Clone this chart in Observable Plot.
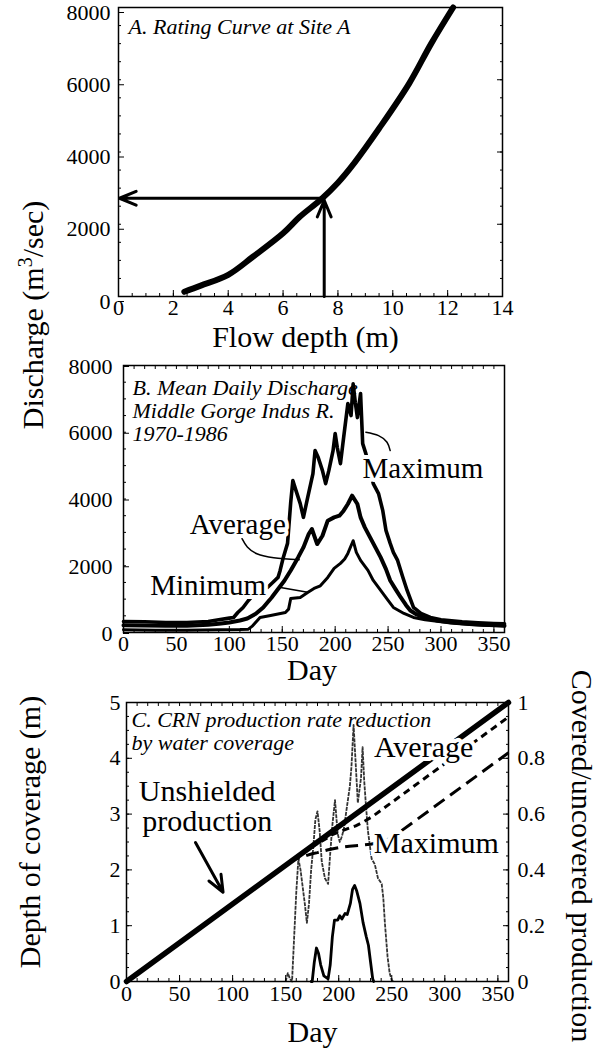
<!DOCTYPE html>
<html><head><meta charset="utf-8">
<script src="https://cdn.jsdelivr.net/npm/d3@7"></script>
<script src="https://cdn.jsdelivr.net/npm/@observablehq/plot@0.6"></script>
<style>
html,body{margin:0;padding:0;background:#fff;}
#root{position:relative;width:598px;height:1049px;overflow:hidden;font-family:"Liberation Serif",serif;color:#000;}
#root svg{position:absolute;left:0;}
#ytitleAB{position:absolute;left:33px;top:315px;transform:translate(-50%,-50%) rotate(-90deg);white-space:nowrap;font-size:30px;line-height:1;}
#ytitleAB sup{font-size:20px;line-height:0;}
</style></head><body>
<div id="root"><div id="ytitleAB">Discharge (m<sup>3</sup>/sec)</div></div>
<script>
// ---------- Panel A: rating curve ----------
const titleA = "A. Rating Curve at Site A";
const xTitleA = "Flow depth (m)";
const ratingDepth = [2.4, 3.0, 4.0, 4.9, 6.0, 6.6, 7.4, 8.0, 8.6, 9.5, 10.6, 11.4, 12.2];
const ratingDischarge = [130, 300, 600, 1100, 1750, 2200, 2700, 3150, 3700, 4650, 5900, 7000, 8000];
const readDepth = 7.5;
const readDischarge = 2720;
const xTicksA = [0, 2, 4, 6, 8, 10, 12, 14];
const yTicksQ = [0, 2000, 4000, 6000, 8000];

// ---------- Panel B: mean daily discharge ----------
const titleB = "B. Mean Daily Discharge\nMiddle Gorge Indus R.\n1970-1986";
const dayTitle = "Day";
const dayTicks = [0, 50, 100, 150, 200, 250, 300, 350];
const maxDays = [0, 20, 40, 60, 80, 90, 100, 104, 108, 113, 118, 122, 127, 131, 136, 141, 146, 148, 151, 155, 158, 160, 163, 167, 170, 174, 179, 181, 184, 188, 191, 194, 198, 200, 202, 205, 208, 212, 215, 217, 219, 221, 224, 226, 229, 232, 236, 241, 245, 248, 252, 255, 259, 264, 268, 274, 281, 290, 300, 310, 320, 335, 350, 360];
const maxQ = [330, 320, 300, 300, 330, 380, 430, 450, 600, 750, 960, 1100, 1300, 1460, 1350, 1500, 1650, 1860, 2250, 2670, 3900, 4550, 4250, 3860, 3450, 4040, 4760, 5450, 5240, 4850, 4460, 4850, 5450, 5960, 5540, 5060, 5840, 6860, 6500, 7450, 6900, 6440, 7160, 5660, 5360, 5000, 4460, 4160, 3650, 3060, 2670, 2400, 2160, 1650, 1260, 750, 570, 450, 380, 350, 320, 290, 270, 260];
const avgDays = [0, 20, 40, 60, 80, 90, 100, 110, 117, 125, 132, 140, 145, 152, 158, 165, 170, 175, 178, 183, 188, 193, 199, 204, 208, 212, 216, 221, 224, 228, 233, 238, 243, 248, 252, 257, 262, 267, 271, 277, 284, 295, 309, 330, 356, 360];
const avgQ = [220, 210, 200, 200, 230, 260, 300, 360, 420, 560, 750, 1050, 1260, 1550, 1860, 2250, 2550, 2950, 3100, 2650, 2900, 3350, 3450, 3500, 3650, 3850, 4100, 3850, 3450, 3150, 2850, 2550, 2250, 1900, 1560, 1300, 1050, 820, 660, 540, 450, 370, 300, 250, 210, 200];
const minDays = [0, 30, 60, 90, 110, 118, 122, 129, 139, 153, 156, 158, 167, 174, 180, 186, 193, 199, 205, 209, 212, 215, 217, 220, 224, 231, 236, 243, 250, 255, 265, 274, 285, 300, 320, 340, 360];
const minQ = [80, 70, 70, 80, 90, 100, 200, 450, 510, 600, 700, 1020, 1050, 1200, 1320, 1400, 1650, 1920, 2070, 2200, 2370, 2600, 2750, 2400, 2160, 1860, 1560, 1260, 960, 750, 570, 450, 380, 320, 260, 220, 200];
const labelBText = ["Average", "Minimum", "Maximum"];
const labelBDay = [108, 80, 283];
const labelBQ = [3240, 1410, 4910];
const leaderAvgDay = [112, 117, 126, 142, 166];
const leaderAvgQ = [2810, 2560, 2360, 2240, 2180];
const leaderMinDay = [147, 174];
const leaderMinQ = [1357, 1207];
const leaderMaxDay = [229, 241, 249, 252];
const leaderMaxQ = [6000, 5900, 5700, 5450];

// ---------- Panel C: CRN production ----------
const titleC = "C. CRN production rate reduction\nby water coverage";
const yTitleC = "Depth of coverage (m)";
const yTitleCRight = "Covered/uncovered production";
const depthTicks = [0, 1, 2, 3, 4, 5];
const fracPerDepth = 5; // right axis 0..1 spans left axis 0..5
const avgDepthDays = [174, 175, 177, 179, 181, 183, 186, 190, 192, 194, 196, 199, 201, 203, 206, 208, 211, 213, 215, 217, 220, 223, 226, 228, 230, 232, 233];
const avgDepth = [0, 0, 0.35, 0.6, 0.5, 0.3, 0.1, 0.05, 0.3, 0.8, 1.1, 1.1, 1.18, 1.12, 1.22, 1.2, 1.4, 1.65, 1.72, 1.62, 1.4, 1.05, 0.8, 0.65, 0.35, 0.05, 0];
const maxDepthDays = [150, 152, 154, 156, 158, 160, 162, 164, 166, 168, 170, 172, 174, 176, 178, 180, 182, 184, 187, 190, 192, 194, 196.5, 199, 201, 203, 205, 207.5, 210.5, 212, 214, 216, 218, 221, 222.5, 224, 225.5, 227.5, 231, 234, 237, 240.5, 242, 243.5, 246, 248, 250, 252];
const maxDepth = [0, 0.15, 0.05, 0, 0.8, 1.6, 2.2, 2.0, 1.7, 1.4, 1.05, 1.4, 2.0, 2.4, 2.9, 3.05, 2.7, 2.15, 1.85, 1.75, 2.3, 2.8, 3.25, 2.65, 2.5, 2.6, 2.75, 3.1, 3.5, 3.85, 4.6, 3.9, 3.2, 3.65, 4.2, 3.6, 3.2, 2.7, 2.2, 2.1, 1.85, 1.75, 1.5, 1.05, 0.45, 0.15, 0.02, 0];
const unshieldedDays = [0, 360];
const unshieldedFrac = [0, 1];
const avgCumDays = [0, 175, 180, 186, 194, 200, 210, 216, 222, 232, 360];
const avgCumFrac = [0, 0.486, 0.494, 0.507, 0.526, 0.536, 0.550, 0.558, 0.569, 0.592, 0.948];
const maxCumDays = [0, 156, 160, 165, 170, 175, 180, 190, 200, 210, 220, 230, 240, 250, 360];
const maxCumFrac = [0, 0.433, 0.440, 0.445, 0.452, 0.458, 0.462, 0.472, 0.480, 0.485, 0.488, 0.492, 0.50, 0.515, 0.82];
const labelCText = ["Unshielded\nproduction", "Average", "Maximum"];
const labelCDay = [76, 280, 292];
const labelCDepth = [3.13, 4.2, 2.47];
const arrowCDay = [65, 91];
const arrowCDepth = [2.49, 1.6];

// ---------- helpers ----------
const FONT = "Liberation Serif";
const rows = (xs, ys) => xs.map((x, i) => ({x, y: ys[i]}));
const STYLE = {fontFamily: FONT, fontSize: "22px", background: "transparent", overflow: "visible", color: "black"};
const tickX = (values, size, anchor = "bottom") => Plot.axisX(values, {anchor, tickSize: -size, fill: "none", label: null, strokeWidth: 1});
const tickY = (values, size, anchor = "left") => Plot.axisY(values, {anchor, tickSize: -size, fill: "none", label: null, strokeWidth: 1});
const fmt = d3.format("d");
const lineOpts = (sw, extra = {}) => ({x: "x", y: "y", stroke: "black", strokeWidth: sw, strokeLinejoin: "round", strokeLinecap: "round", ...extra});
const halo = {stroke: "white", strokeWidth: 8, fill: "black"};

const root = document.getElementById("root");

// ---------- Panel A ----------
const panelA = Plot.plot({
  width: 598, height: 340,
  marginLeft: 118, marginRight: 96, marginTop: 7, marginBottom: 44,
  x: {domain: [0, 14]}, y: {domain: [0, 8000]},
  style: STYLE,
  marks: [
    Plot.line(rows(ratingDepth, ratingDischarge), lineOpts(6, {curve: "catmull-rom"})),
    Plot.arrow([{x1: readDepth, y1: 0, x2: readDepth, y2: readDischarge}], {x1: "x1", y1: "y1", x2: "x2", y2: "y2", strokeWidth: 3, headLength: 9, headAngle: 45, insetEnd: 2}),
    Plot.arrow([{x1: readDepth, y1: readDischarge, x2: 0, y2: readDischarge}], {x1: "x1", y1: "y1", x2: "x2", y2: "y2", strokeWidth: 3, headLength: 9, headAngle: 45, insetEnd: 1}),
    Plot.frame({strokeWidth: 1.5}),
    tickX(d3.range(0, 14.01, 0.5), 3),
    Plot.axisX(xTicksA, {tickSize: -6, tickPadding: 9, label: null, tickFormat: fmt, fontSize: 22}),
    tickY(d3.range(0, 8001, 500), 3),
    Plot.axisY(yTicksQ, {tickSize: -6, tickPadding: 14, dy: 5, label: null, tickFormat: fmt, fontSize: 22}),
    tickY(d3.range(0, 8001, 500), 3, "right"),
    tickY(yTicksQ, 6, "right"),
    Plot.text([xTitleA], {frameAnchor: "bottom", dy: 41, dx: -5, lineAnchor: "middle", fontSize: 30, text: d => d}),
    Plot.text([titleA], {frameAnchor: "top-left", dx: 10, dy: 11, textAnchor: "start", lineAnchor: "top", fontSize: 22, fontStyle: "italic", text: d => d})
  ]
});
panelA.style.top = "0px";
root.appendChild(panelA);

// ---------- Panel B ----------
const labelsB = labelBText.map((t, i) => ({t, x: labelBDay[i], y: labelBQ[i]}));
const leadersB = [
  ...rows(leaderAvgDay, leaderAvgQ).map(d => ({...d, id: "avg"})),
  ...rows(leaderMinDay, leaderMinQ).map(d => ({...d, id: "min"})),
  ...rows(leaderMaxDay, leaderMaxQ).map(d => ({...d, id: "max"}))
];
const panelB = Plot.plot({
  width: 598, height: 340,
  marginLeft: 123, marginRight: 94, marginTop: 25, marginBottom: 48,
  x: {domain: [0, 360]}, y: {domain: [0, 8000]},
  style: STYLE,
  marks: [
    Plot.line(rows(maxDays, maxQ), lineOpts(3.6)),
    Plot.line(rows(avgDays, avgQ), lineOpts(4)),
    Plot.line(rows(minDays, minQ), lineOpts(3)),
    Plot.text(labelsB, {x: "x", y: "y", text: "t", fontSize: 29, ...halo}),
    Plot.line(leadersB, {x: "x", y: "y", z: "id", curve: "natural", stroke: "black", strokeWidth: 1.5}),
    Plot.frame({strokeWidth: 1.5}),
    tickX(d3.range(0, 361, 10), 3),
    tickX(d3.range(0, 361, 10), 3, "top"),
    Plot.axisX(dayTicks, {tickSize: -6, tickPadding: 9, label: null, tickFormat: fmt, fontSize: 22}),
    tickY(d3.range(0, 8001, 500), 3),
    Plot.axisY(yTicksQ, {tickSize: -6, tickPadding: 17, dy: 1, label: null, tickFormat: fmt, fontSize: 22}),
    Plot.text([dayTitle], {frameAnchor: "bottom", dy: 38, dx: -2, lineAnchor: "middle", fontSize: 30, text: d => d}),
    Plot.text([titleB], {frameAnchor: "top-left", dx: 9, dy: 13, textAnchor: "start", lineAnchor: "top", lineHeight: 1.05, fontSize: 22, fontStyle: "italic", text: d => d})
  ]
});
panelB.style.top = "340px";
root.appendChild(panelB);

// ---------- Panel C ----------
const labelsC = labelCText.map((t, i) => ({t, x: labelCDay[i], y: labelCDepth[i]}));
const fracRows = (xs, fs) => xs.map((x, i) => ({x, y: fs[i] * fracPerDepth}));
const panelC = Plot.plot({
  width: 598, height: 399,
  marginLeft: 126, marginRight: 90, marginTop: 52, marginBottom: 68,
  x: {domain: [0, 360]}, y: {domain: [0, 5]},
  style: STYLE,
  marks: [
    Plot.line(rows(maxDepthDays, maxDepth), lineOpts(1.8, {stroke: "#333", strokeDasharray: "4,1", strokeLinecap: "butt"})),
    Plot.line(rows(avgDepthDays, avgDepth), lineOpts(2.8)),
    Plot.line(fracRows(maxCumDays, maxCumFrac), lineOpts(3, {strokeDasharray: "13,7", strokeLinecap: "butt"})),
    Plot.line(fracRows(avgCumDays, avgCumFrac), lineOpts(3, {strokeDasharray: "7,5", strokeLinecap: "butt"})),
    Plot.line(fracRows(unshieldedDays, unshieldedFrac), lineOpts(5.5)),
    Plot.text(labelsC, {x: "x", y: "y", text: "t", fontSize: 30, lineHeight: 1.0, ...halo}),
    Plot.arrow([{x1: arrowCDay[0], y1: arrowCDepth[0], x2: arrowCDay[1], y2: arrowCDepth[1]}], {x1: "x1", y1: "y1", x2: "x2", y2: "y2", strokeWidth: 3, headLength: 9, headAngle: 45}),
    Plot.frame({strokeWidth: 1.5}),
    tickX(d3.range(0, 361, 10), 3),
    tickX(d3.range(0, 361, 10), 3, "top"),
    Plot.axisX(dayTicks, {tickSize: -6, tickPadding: 10, label: null, tickFormat: fmt, fontSize: 22}),
    tickY(d3.range(0, 5.01, 0.25), 3),
    Plot.axisY(depthTicks, {tickSize: -6, tickPadding: 12, label: null, tickFormat: fmt, fontSize: 22}),
    tickY(d3.range(0, 5.01, 0.25), 3, "right"),
    Plot.axisY(depthTicks, {anchor: "right", tickSize: -6, tickPadding: 15, label: null, tickFormat: d => String(+(d / fracPerDepth).toFixed(1)), fontSize: 22}),
    Plot.text([dayTitle], {frameAnchor: "bottom", dy: 51, dx: -5, lineAnchor: "middle", fontSize: 30, text: d => d}),
    Plot.text([yTitleC], {frameAnchor: "left", dx: -96, dy: -10, rotate: -90, textAnchor: "middle", lineAnchor: "middle", fontSize: 30, text: d => d}),
    Plot.text([yTitleCRight], {frameAnchor: "right", dx: 73, dy: 14, rotate: 90, textAnchor: "middle", lineAnchor: "middle", fontSize: 30, text: d => d}),
    Plot.text([titleC], {frameAnchor: "top-left", dx: 5, dy: 8, textAnchor: "start", lineAnchor: "top", lineHeight: 1.05, fontSize: 22, fontStyle: "italic", text: d => d})
  ]
});
panelC.style.top = "650px";
root.appendChild(panelC);
</script></body></html>
